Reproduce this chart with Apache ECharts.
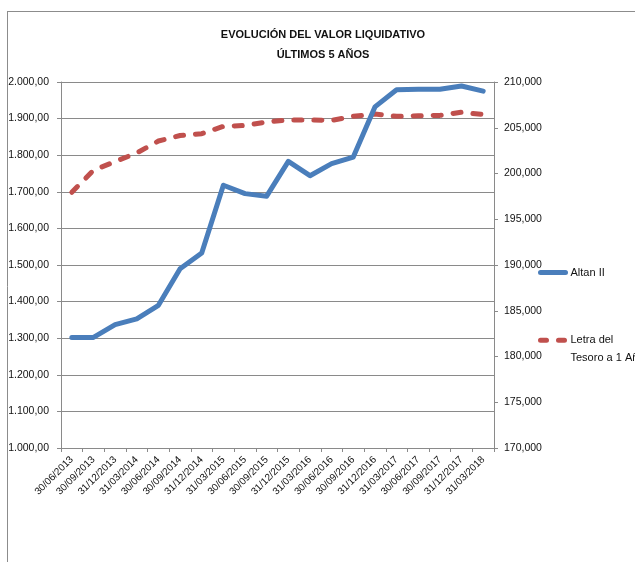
<!DOCTYPE html>
<html>
<head>
<meta charset="utf-8">
<script src="https://cdn.jsdelivr.net/npm/echarts@6/dist/echarts.min.js"></script>
<style>html,body{margin:0;padding:0;background:#fff}#c{width:635px;height:562px}</style>
</head>
<body>
<div id="c"></div>
<script>
const categories = ['30/06/2013','30/09/2013','31/12/2013','31/03/2014','30/06/2014','30/09/2014','31/12/2014','31/03/2015','30/06/2015','30/09/2015','31/12/2015','31/03/2016','30/06/2016','30/09/2016','31/12/2016','31/03/2017','30/06/2017','30/09/2017','31/12/2017','31/03/2018'];
const altanValues = [1302, 1302, 1337, 1353, 1390, 1490, 1533, 1718, 1695, 1688, 1783, 1744, 1777, 1795, 1932, 1979, 1980, 1980, 1989, 1975];
const letraValues = [197950, 200350, 201300, 202250, 203550, 204150, 204350, 205150, 205250, 205630, 205850, 205850, 205800, 206250, 206500, 206250, 206300, 206350, 206700, 206450];
const seriesNames = ['Altan II', 'Letra del Tesoro a 1 Año'];
const titleText = 'EVOLUCIÓN DEL VALOR LIQUIDATIVO\nÚLTIMOS 5 AÑOS';

const FONT = '"Liberation Sans", Arial, sans-serif';
const GRID = '#8a8a8a';
function fmtLeft(v) {
  const s = Math.round(v).toString().replace(/\B(?=(\d{3})+(?!\d))/g, '.');
  return s + ',00';
}
function fmtRight(v) {
  return Math.round(v).toString().replace(/\B(?=(\d{3})+(?!\d))/g, ',');
}
const chart = echarts.init(document.getElementById('c'), null, {renderer: 'canvas'});
chart.setOption({
  animation: false,
  backgroundColor: '#fff',
  textStyle: {fontFamily: FONT},
  title: {
    text: titleText, padding: 0,
    left: 323, top: 25, textAlign: 'center',
    textStyle: {fontFamily: FONT, fontSize: 11, fontWeight: 'bold', color: '#111', lineHeight: 20}
  },
  graphic: [
    {type: 'line', shape: {x1: 7, y1: 11.5, x2: 635, y2: 11.5}, style: {stroke: '#8c8c8c', lineWidth: 1}},
    {type: 'line', shape: {x1: 7.5, y1: 11, x2: 7.5, y2: 562}, style: {stroke: '#8c8c8c', lineWidth: 1}}
  ],
  legend: [
    {
      data: [seriesNames[0]], orient: 'vertical', left: 538, top: 267, padding: 0,
      itemWidth: 25, itemHeight: 14,
      itemStyle: {opacity: 0},
      lineStyle: {width: 5, cap: 'round'},
      textStyle: {fontFamily: FONT, fontSize: 11, color: '#111'}
    },
    {
      data: [seriesNames[1]], orient: 'vertical', left: 538, top: 314, padding: 0,
      itemWidth: 25, itemHeight: 14,
      itemStyle: {opacity: 0},
      lineStyle: {width: 5, type: [6, 12], cap: 'round'},
      formatter: () => '\nLetra del\nTesoro a 1 Año',
      textStyle: {fontFamily: FONT, fontSize: 11, color: '#111', lineHeight: 17.5}
    }
  ],
  grid: {left: 61, right: 141, top: 82, bottom: 114, containLabel: false},
  xAxis: {
    type: 'category', data: categories, boundaryGap: true,
    axisLine: {lineStyle: {color: GRID, width: 1}},
    axisTick: {show: true, inside: false, length: 4, lineStyle: {color: GRID}},
    axisLabel: {interval: 0, rotate: 45, margin: 10, fontSize: 10, color: '#111', fontFamily: FONT}
  },
  yAxis: [
    {
      type: 'value', min: 1000, max: 2000, interval: 100, position: 'left',
      axisLine: {show: true, lineStyle: {color: GRID, width: 1}},
      axisTick: {show: true, length: 4, lineStyle: {color: GRID}},
      splitLine: {show: true, lineStyle: {color: GRID, width: 1}},
      axisLabel: {formatter: fmtLeft, fontSize: 10.5, color: '#111', margin: 12, fontFamily: FONT}
    },
    {
      type: 'value', min: 170000, max: 210000, interval: 5000, position: 'right',
      axisLine: {show: true, lineStyle: {color: GRID, width: 1}},
      axisTick: {show: true, length: 4, lineStyle: {color: GRID}},
      splitLine: {show: false},
      axisLabel: {formatter: fmtRight, fontSize: 10.5, color: '#111', margin: 10, fontFamily: FONT}
    }
  ],
  series: [
    {
      name: seriesNames[0], type: 'line', data: altanValues, yAxisIndex: 0,
      symbol: 'none', z: 4,
      itemStyle: {color: '#4a7ebb'},
      lineStyle: {color: '#4a7ebb', width: 5, cap: 'round', join: 'round'}
    },
    {
      name: seriesNames[1], type: 'line', data: letraValues, yAxisIndex: 1,
      symbol: 'none', z: 3,
      itemStyle: {color: '#c0504d'},
      lineStyle: {color: '#c0504d', width: 5, type: [8, 12], cap: 'round', join: 'round'}
    }
  ]
});
</script>
</body>
</html>
